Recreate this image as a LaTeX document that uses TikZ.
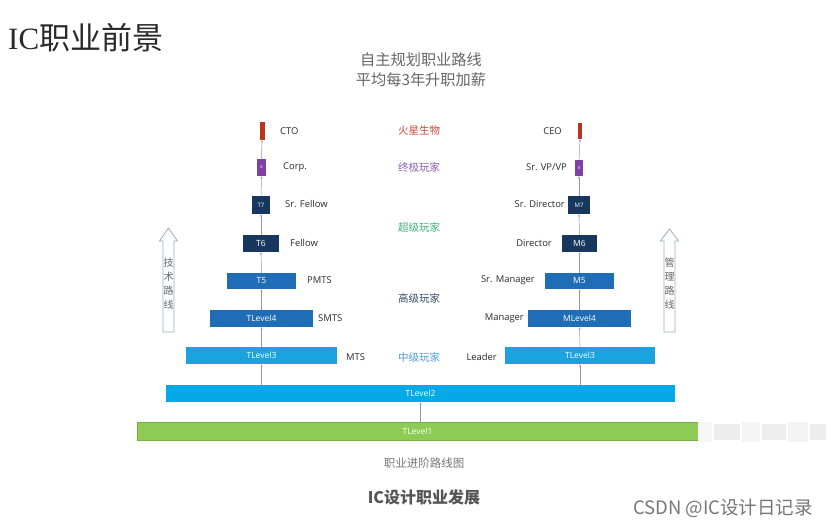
\documentclass[tikz,border=0pt]{standalone}
\usepackage{fontspec}
\setmainfont{Open Sans}
\newfontfamily\cjk{Noto Sans CJK SC}
\newfontfamily\serifl{Liberation Serif}
\usetikzlibrary{arrows.meta}
\definecolor{cred}{HTML}{B8361E}
\definecolor{cpurple}{HTML}{7E3FA6}
\definecolor{cnavy}{HTML}{17375E}
\definecolor{cmid}{HTML}{1F6DB6}
\definecolor{clight}{HTML}{1BA3E0}
\definecolor{cl2}{HTML}{05A9E8}
\definecolor{cgreen}{HTML}{8DCB55}
\definecolor{cgreend}{HTML}{78B043}
\definecolor{ctxt}{HTML}{2A2A2A}
\definecolor{cgray}{HTML}{666666}
\definecolor{cgrayl}{HTML}{777777}
\definecolor{cgraym}{HTML}{555555}
\definecolor{carrow}{HTML}{9AB0C4}
\definecolor{tred}{HTML}{D0473A}
\definecolor{tpur}{HTML}{8E5BB5}
\definecolor{tgrn}{HTML}{3DB37A}
\definecolor{tdark}{HTML}{3A4A6A}
\definecolor{tblue}{HTML}{4A9FD8}
\tikzset{
  box/.style={rectangle, inner sep=0pt, text=white, font=\fontsize{8.5}{9}\selectfont},
  lab/.style={inner sep=0pt, text=ctxt, font=\fontsize{9.4}{10}\selectfont},
  mid/.style={inner sep=0pt, font=\cjk\fontsize{10.5}{11}\selectfont},
  conn/.style={draw=gray!80, line width=0.5pt, -{Latex[length=2.2pt,width=2.2pt]}},
  hollow/.style={draw=carrow, line width=0.8pt, fill=white},
  vtext/.style={inner sep=0pt, align=center, text=cgray, font=\cjk\fontsize{10}{14}\selectfont},
}
\begin{document}
\begin{tikzpicture}[x=1pt,y=-1pt]
\useasboundingbox (0,0) rectangle (830,525);
\fill[white] (0,0) rectangle (830,525);

% titles
\node[anchor=west, inner sep=0pt, text=ctxt] (title) at (8,38) {\fontsize{31}{33}\selectfont\serifl IC\cjk 职业前景};
\node[inner sep=0pt, text=cgray, font=\cjk\fontsize{15.2}{16}\selectfont] (sub1) at (421,60) {自主规划职业路线};
\node[inner sep=0pt, text=cgray, font=\cjk\fontsize{15.2}{16}\selectfont] (sub2) at (421,80) {平均每3年升职加薪};

% left column boxes
\node[box, fill=cred, minimum width=5, minimum height=18] (cto) at (262,131) {};
\node[box, fill=cpurple, minimum width=9, minimum height=17] (corp) at (261.5,167.5) {\fontsize{4}{4}\selectfont 8};
\node[box, fill=cnavy, minimum width=18, minimum height=18] (t7) at (261,205) {\fontsize{6}{6}\selectfont T7};
\node[box, fill=cnavy, minimum width=36, minimum height=17] (t6) at (261,243.5) {T6};
\node[box, fill=cmid, minimum width=69, minimum height=16] (t5) at (261.5,281) {T5};
\node[box, fill=cmid, minimum width=103, minimum height=17] (tl4) at (261.5,318.5) {TLevel4};
\node[box, fill=clight, minimum width=151, minimum height=17] (tl3) at (261.5,355.5) {TLevel3};

% right column boxes
\node[box, fill=cred, minimum width=4, minimum height=16] (ceo) at (580,131) {};
\node[box, fill=cpurple, minimum width=8, minimum height=16] (vp) at (579,168) {\fontsize{4}{4}\selectfont 8};
\node[box, fill=cnavy, minimum width=22, minimum height=18] (m7) at (579,205) {\fontsize{6}{6}\selectfont M7};
\node[box, fill=cnavy, minimum width=35, minimum height=17] (m6) at (579.5,243.5) {M6};
\node[box, fill=cmid, minimum width=69, minimum height=16] (m5) at (579.5,281) {M5};
\node[box, fill=cmid, minimum width=103, minimum height=17] (ml4) at (579.5,318.5) {MLevel4};
\node[box, fill=clight, minimum width=150, minimum height=17] (tr3) at (580,355.5) {TLevel3};

% base bars
\node[box, fill=cl2, minimum width=509, minimum height=17] (tl2) at (420.5,393.5) {TLevel2};
\node[box, fill=cgreen, draw=cgreend, line width=0.6pt, minimum width=561, minimum height=18] (tl1) at (417.5,431) {TLevel1};

% connectors
\draw[conn] (corp.north) -- (cto.south);
\draw[conn] (t7.north) -- (corp.south);
\draw[conn] (t6.north) -- (t7.south);
\draw[conn] (t5.north) -- (t6.south);
\draw[conn] (tl4.north) -- (t5.south);
\draw[conn] (tl3.north) -- (tl4.south);
\draw[conn] (tl3.south |- tl2.north) -- (tl3.south);
\draw[conn] (vp.north) -- (ceo.south);
\draw[conn] (m7.north) -- (vp.south);
\draw[conn] (m6.north) -- (m7.south);
\draw[conn] (m5.north) -- (m6.south);
\draw[conn] (ml4.north) -- (m5.south);
\draw[conn] (tr3.north) -- (ml4.south);
\draw[conn] (tr3.south |- tl2.north) -- (tr3.south);
\draw[conn] (tl2.south |- tl1.north) -- (tl2.south);

% left labels
\node[lab, anchor=west] (lcto) at (280,131) {CTO};
\node[lab, anchor=west] (lcorp) at (283,167) {Corp.};
\node[lab, anchor=west] (lsf) at (285,204) {Sr. Fellow};
\node[lab, anchor=west] (lf) at (290,243) {Fellow};
\node[lab, anchor=west] (lpm) at (307,280) {PMTS};
\node[lab, anchor=west] (lsm) at (318,318) {SMTS};
\node[lab, anchor=west] (lmts) at (346,357) {MTS};

% right labels
\node[lab, anchor=east] (lceo) at (562,131) {CEO};
\node[lab, anchor=east] (lvp) at (567,167) {Sr. VP/VP};
\node[lab, anchor=east] (lsd) at (565,204) {Sr. Director};
\node[lab, anchor=east] (ld) at (552,243) {Director};
\node[lab, anchor=east] (lsmg) at (535,280) {Sr. Manager};
\node[lab, anchor=east] (lmg) at (524,318) {Manager};
\node[lab, anchor=east] (lld) at (497,357) {Leader};

% middle labels
\node[mid, text=tred] (m1) at (419,131) {火星生物};
\node[mid, text=tpur] (m2) at (419,167) {终极玩家};
\node[mid, text=tgrn] (m3) at (419,227) {超级玩家};
\node[mid, text=tdark] (m4) at (419,298) {高级玩家};
\node[mid, text=tblue] (m5t) at (419,357) {中级玩家};

% hollow arrows
\draw[hollow] (163,332) -- (163,241) -- (159.5,241) -- (168.5,228) -- (177.5,241) -- (174,241) -- (174,332) -- cycle;
\node[vtext] (va) at (168.5,284) {技\\术\\路\\线};
\draw[hollow] (664,332) -- (664,241) -- (660.5,241) -- (669.5,229) -- (678.5,241) -- (675,241) -- (675,332) -- cycle;
\node[vtext] (vb) at (669.5,284) {管\\理\\路\\线};

% blurred mosaic
\fill[gray!7] (698,422) rectangle (712,442);
\fill[gray!14] (714,424) rectangle (740,440);
\fill[gray!8] (742,422) rectangle (760,442);
\fill[gray!13] (762,424) rectangle (786,440);
\fill[gray!9] (788,422) rectangle (808,442);
\fill[gray!14] (810,424) rectangle (826,440);

% bottom texts
\node[inner sep=0pt, text=cgrayl, font=\cjk\fontsize{11.5}{12}\selectfont] (cap) at (424,463) {职业进阶路线图};
\node[inner sep=0pt, text=cgraym, font=\cjk\bfseries\fontsize{16}{17}\selectfont] (cap2) at (424,497) {IC设计职业发展};
\node[inner sep=0pt, anchor=east, text=cgrayl, font=\cjk\fontsize{18.5}{19}\selectfont] (wm) at (813,508) {CSDN @IC设计日记录};
\end{tikzpicture}
\end{document}
